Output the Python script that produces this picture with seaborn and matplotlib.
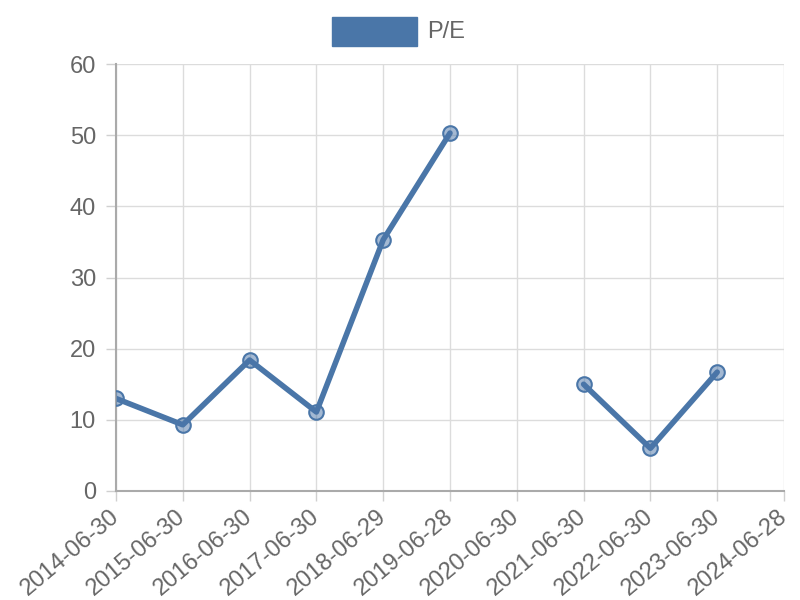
import numpy as np
import pandas as pd
import matplotlib
matplotlib.use('Agg')
import matplotlib.pyplot as plt
import seaborn as sns

# P/E by fiscal year end
dates = ['2014-06-30', '2015-06-30', '2016-06-30', '2017-06-30', '2018-06-29',
         '2019-06-28', '2020-06-30', '2021-06-30', '2022-06-30', '2023-06-30',
         '2024-06-28']
pe = [13.0, 9.3, 18.4, 11.1, 35.3, 50.3, np.nan, 15.0, 6.0, 16.7, np.nan]

LINE = '#4a76a8'
TEXT = '#666666'

df = pd.DataFrame({'date': dates, 'pe': pe})
df['pos'] = range(len(df))
# split the line where values are missing
df['segment'] = df['pe'].isna().cumsum()
plot_df = df.dropna().copy()

sns.set_theme(style = 'white')
plt.rcParams['font.family'] = ['Liberation Sans', 'DejaVu Sans']

fig = plt.figure(figsize = (8, 6), dpi = 100)
ax = fig.add_axes([0.145, 0.1817, 0.835, 0.7116])

sns.lineplot(ax = ax, data = plot_df, x = 'pos', y = 'pe', units = 'segment',
             estimator = None, color = LINE, linewidth = 4, legend = False)
sns.scatterplot(ax = ax, data = plot_df, x = 'pos', y = 'pe',
                color = (0.29, 0.46, 0.66, 0.5), edgecolor = LINE,
                linewidth = 1.5, s = 110, zorder = 3, legend = False)

ax.set_xlim(0, len(dates) - 1)
ax.set_ylim(0, 60)
ax.set_yticks(range(0, 61, 10))
ax.set_xticks(df['pos'])
ax.set_xticklabels(dates, rotation = 40, ha = 'right', va = 'center',
                   rotation_mode = 'anchor')
ax.set(xlabel = '', ylabel = '')

ax.grid(True, color = '#dcdcdc', linewidth = 1)
for side in ['top', 'right']:
    ax.spines[side].set_visible(False)
for side in ['left', 'bottom']:
    ax.spines[side].set_color('#aaaaaa')
    ax.spines[side].set_linewidth(1.5)
ax.tick_params(axis = 'both', colors = '#d0d0d0', labelcolor = TEXT,
               labelsize = 17, length = 7.5, width = 1, direction = 'out',
               left = True, bottom = True)
ax.tick_params(axis = 'y', pad = 7)
ax.tick_params(axis = 'x', pad = 9)

# legend box at the top
fig.patches.append(plt.Rectangle((332 / 800, 1 - 46 / 600), 85 / 800, 29 / 600,
                                 transform = fig.transFigure, color = LINE))
fig.text(427 / 800, 1 - 32 / 600, 'P/E', color = TEXT, fontsize = 17, va = 'center')

fig.savefig('out.png', dpi = 100)
